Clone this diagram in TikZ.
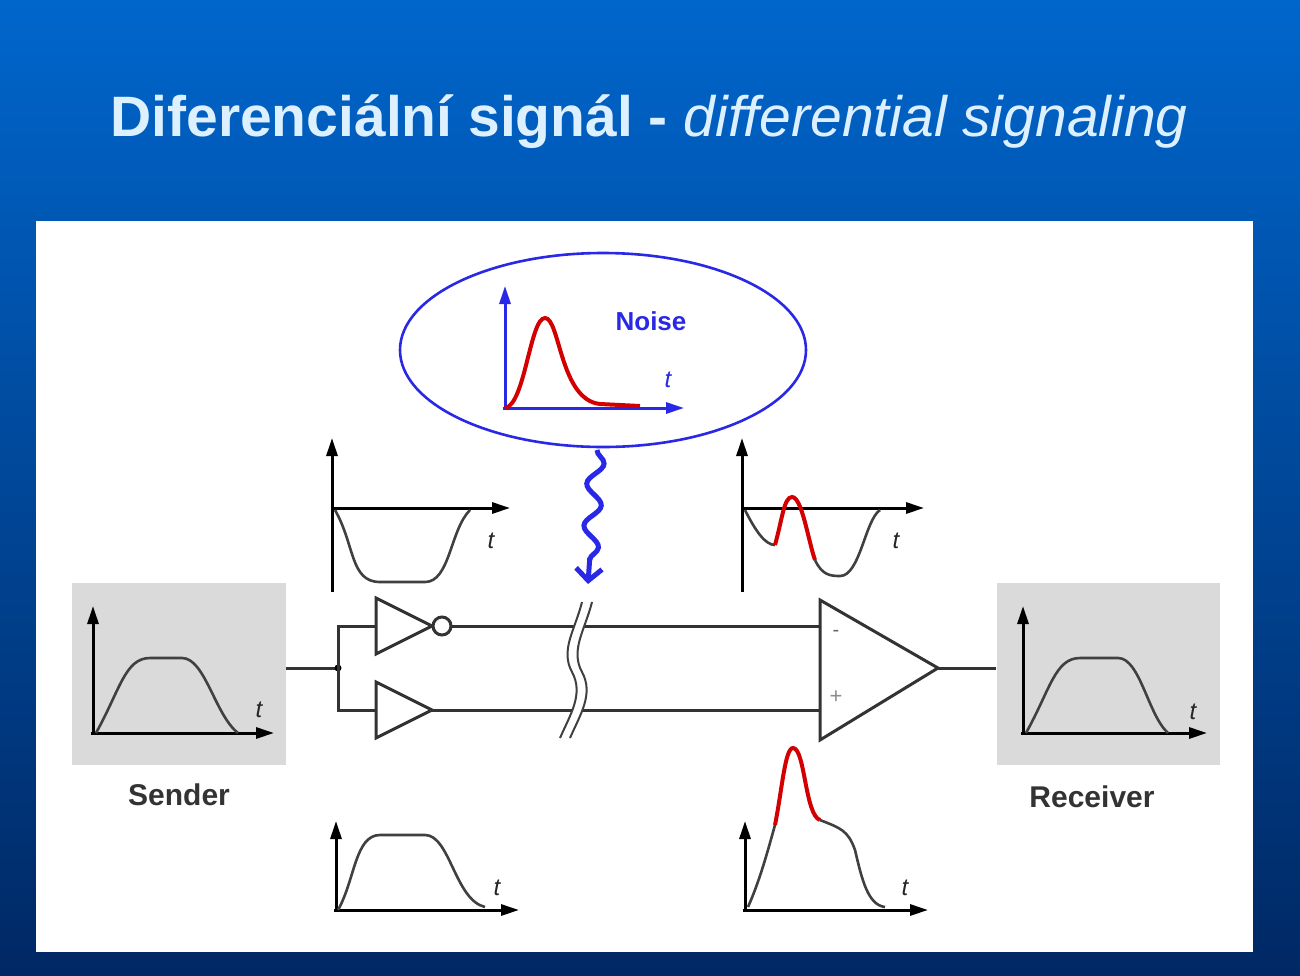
\documentclass[tikz,border=0pt]{standalone}
\usepackage{fontspec}
\setmainfont{Liberation Sans}
\usetikzlibrary{arrows.meta,decorations.pathmorphing}
\definecolor{bgtop}{RGB}{0,102,204}
\definecolor{bgbot}{RGB}{0,40,100}
\definecolor{ttl}{RGB}{220,240,255}
\definecolor{nblue}{RGB}{40,40,230}
\definecolor{nred}{RGB}{210,0,0}
\definecolor{boxgray}{RGB}{218,218,218}
\begin{document}
\begin{tikzpicture}[x=1pt,y=-1pt,
  ax/.style={line width=3pt,-{Triangle[length=18pt,width=11pt]}},
  wire/.style={line width=3pt,black!80},
  curve/.style={line width=2.6pt,black!75},
  redc/.style={line width=4pt,nred},
  lbl/.style={font=\fontsize{30}{32}\selectfont\bfseries,text=black!80},
  tl/.style={font=\fontsize{24}{26}\selectfont\itshape,text=black!85}]
\useasboundingbox (0,0) rectangle (1300,975);
\shade[top color=bgtop,bottom color=bgbot] (0,0) rectangle (1300,975);
\node (title) at (649,122) {\fontsize{57}{62}\selectfont\color{ttl}\textbf{Diferenciální signál -} \textit{differential signaling}};
\fill[white] (36,221) rectangle (1253,952);
% noise
\draw[nblue,line width=2.6pt] (603,350) ellipse [x radius=203,y radius=97];
\draw[ax,nblue] (505,410) -- (505,286);
\draw[ax,nblue] (503,408) -- (684,408);
\draw[redc] (505,408) .. controls (525,405) and (530,318) .. (545,318) .. controls (560,318) and (560,400) .. (600,404) -- (640,406);
\node[font=\fontsize{26}{28}\selectfont\bfseries,text=nblue] (noise) at (651,321) {Noise};
\node[tl,text=nblue] (nt) at (668,380) {t};
\coordinate (sq1) at (597,450);
\coordinate (sq2) at (588,584);
\draw[nblue,line width=5pt,-{Straight Barb[length=12pt,width=26pt]},decorate,decoration={snake,amplitude=8pt,segment length=42pt,post length=20pt}] (sq1) -- (sq2);
% top-left graph
\draw[ax] (332,592) -- (332,438);
\draw[ax] (332,508) -- (510,508);
\draw[curve] (335,510) .. controls (355,545) and (350,582) .. (380,582) -- (425,582) .. controls (450,582) and (450,530) .. (470,510);
\node[tl] at (491,541) {t};
% top-right graph
\draw[ax] (742,592) -- (742,438);
\draw[ax] (742,508) -- (924,508);
\draw[curve] (745,510) .. controls (755,530) and (765,545) .. (775,545);
\draw[redc] (775,545) .. controls (782,520) and (784,497) .. (792,497) .. controls (802,497) and (808,540) .. (815,560);
\draw[curve] (815,560) .. controls (822,575) and (830,576) .. (840,576) .. controls (860,576) and (865,520) .. (880,510);
\node[tl] at (896,541) {t};
% sender
\node[fill=boxgray,minimum width=214pt,minimum height=182pt,inner sep=0] (sender) at (179,674) {};
\draw[ax] (93,735) -- (93,606);
\draw[ax] (91,733) -- (274,733);
\draw[curve] (96,733) .. controls (120,690) and (125,658) .. (150,658) -- (182,658) .. controls (205,658) and (215,715) .. (238,733);
\node[tl] at (259,710) {t};
\node[lbl] (slbl) at (179,795) {Sender};
% receiver
\node[fill=boxgray,minimum width=223pt,minimum height=182pt,inner sep=0] (receiver) at (1108,674) {};
\draw[ax] (1023,735) -- (1023,606);
\draw[ax] (1021,733) -- (1207,733);
\draw[curve] (1026,733) .. controls (1050,690) and (1055,658) .. (1080,658) -- (1118,658) .. controls (1140,658) and (1148,715) .. (1168,733);
\node[tl] at (1193,712) {t};
\node[lbl] (rlbl) at (1092,797) {Receiver};
% drivers
\coordinate (split) at (338,668);
\draw[wire] (sender.east |- split) -- (split);
\fill (split) circle (3.5pt);
\draw[wire] (376,626) -- (338,626) -- (338,710) -- (376,710);
\draw[wire,fill=white] (376,598) -- (376,654) -- (432,626) -- cycle;
\draw[wire,fill=white] (442,626) circle (9pt);
\draw[wire,fill=white] (376,682) -- (376,738) -- (432,710) -- cycle;
\draw[wire] (451,626) -- (820,626);
\draw[wire] (432,710) -- (820,710);
% break marks
\fill[white] (582,602) .. controls (575,630) and (560,650) .. (572,672) .. controls (584,694) and (570,715) .. (560,738) -- (570,738) .. controls (580,715) and (594,694) .. (582,672) .. controls (570,650) and (585,630) .. (592,602) -- cycle;
\foreach \dx in {0,10}{
\draw[line width=2pt,black!75] (582+\dx,602) .. controls (575+\dx,630) and (560+\dx,650) .. (572+\dx,672) .. controls (584+\dx,694) and (570+\dx,715) .. (560+\dx,738);}
% amplifier
\draw[wire,fill=white] (820,600) -- (820,740) -- (938,668) -- cycle;
\node[font=\fontsize{20}{20}\selectfont,text=black!60] at (836,633) {-};
\node[font=\fontsize{22}{22}\selectfont,text=black!45] at (836,697) {+};
\draw[wire] (938,668) -- (receiver.west |- 938,668);
% bottom-left graph
\draw[ax] (336,912) -- (336,821);
\draw[ax] (334,910) -- (519,910);
\draw[curve] (338,910) .. controls (355,880) and (355,835) .. (380,835) -- (425,835) .. controls (450,835) and (455,900) .. (485,907);
\node[tl] at (497,888) {t};
% bottom-right graph
\draw[ax] (745,912) -- (745,821);
\draw[ax] (743,910) -- (928,910);
\draw[curve] (748,907) .. controls (760,880) and (768,850) .. (775,825);
\draw[redc] (775,825) .. controls (782,790) and (785,748) .. (793,748) .. controls (805,748) and (805,815) .. (820,820);
\draw[curve] (820,820) .. controls (840,828) and (848,830) .. (855,850) .. controls (862,880) and (868,905) .. (885,907);
\node[tl] at (905,888) {t};
\end{tikzpicture}
\end{document}
